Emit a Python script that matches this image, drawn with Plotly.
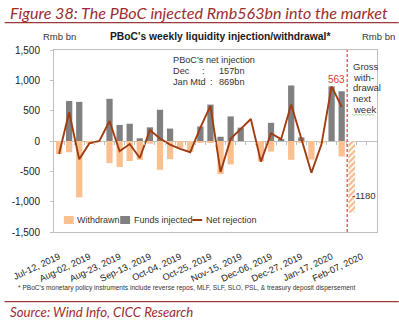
import plotly.graph_objects as go

# Weekly categories (Friday of each week)
weeks = [
    "Jul-12, 2019", "Jul-19, 2019", "Jul-26, 2019", "Aug-02, 2019", "Aug-09, 2019",
    "Aug-16, 2019", "Aug-23, 2019", "Aug-30, 2019", "Sep-06, 2019", "Sep-13, 2019",
    "Sep-20, 2019", "Sep-27, 2019", "Oct-04, 2019", "Oct-11, 2019", "Oct-18, 2019",
    "Oct-25, 2019", "Nov-01, 2019", "Nov-08, 2019", "Nov-15, 2019", "Nov-22, 2019",
    "Nov-29, 2019", "Dec-06, 2019", "Dec-13, 2019", "Dec-20, 2019", "Dec-27, 2019",
    "Jan-03, 2020", "Jan-10, 2020", "Jan-17, 2020", "Jan-24, 2020", "Jan-31, 2020",
    "Feb-07, 2020", "Feb-14, 2020",
]

# Rmb bn, weeks Jul-12 .. Jan-24
injected = [0, 660, 645, 0, 0, 695, 265, 285, 45, 225,
            515, 205, 0, 0, 240, 600, 70, 405, 220, 0,
            0, 300, 30, 915, 60, 0, 0, 900, 820]
withdrawn = [-215, -185, -930, -45, 0, -365, -430, -330, -310, -45,
             -475, -300, -120, -180, -25, -25, -545, -385, 0, 0,
             -340, -175, 0, -310, -20, -306, -35, 0, -255]
net = [-215, 475, -300, -40, 0, 330, -170, -50, -280, 180,
       40, -60, -130, -185, 220, 580, -510, 35, 200, 362,
       -340, 125, 30, 600, 40, -525, -55, 900, 563]

# Gross withdrawal due next week (Jan-31)
gross_next_week = -1180

y_ticks = [1500, 1000, 500, 0, -500, -1000, -1500]
y_tick_labels = ["1,500", "1,000", "500", "0", "-500", "-1,000", "-1,500"]
tick_labels = weeks[::3]

summary_rows = [("Dec", "157bn"), ("Jan Mtd", "869bn")]
gross_note = ["Gross", "with-", "drawal", "next", "week"]

C_RED = "#9b2d30"
C_ORANGE = "#FAC090"
C_GRAY = "#808080"
C_LINE = "#a03c12"
C_FRAME = "#bfbfbf"
FONT = "Liberation Sans"

# plot area in pixels
L, R, T, B = 50, 377, 50, 232


def fx(x):
    return (x - L) / (R - L)


def fy(y):
    return (B - y) / (B - T)


n = len(net)
fig = go.Figure()
fig.add_trace(go.Bar(x=weeks[:n], y=withdrawn, width=0.62, marker_color=C_ORANGE,
                     marker_line_width=0, name="Withdrawn"))
fig.add_trace(go.Bar(x=weeks[:n], y=injected, width=0.62, marker_color=C_GRAY,
                     marker_line_width=0, name="Funds injected"))
fig.add_trace(go.Bar(x=[weeks[n]], y=[gross_next_week], width=0.66,
                     marker=dict(color="white", line_width=0,
                                 pattern=dict(shape="/", fgcolor="#e67a1c", bgcolor="white",
                                              size=4, solidity=0.55)),
                     name="Gross withdrawal next week"))
fig.add_trace(go.Scatter(x=weeks[:n], y=net, mode="lines",
                         line=dict(color=C_LINE, width=1.9), name="Net rejection"))
# carrier for the tick marks on the zero line
fig.add_trace(go.Scatter(x=[None], y=[None], xaxis="x2", showlegend=False, hoverinfo="skip"))

ann = []


def text(x, y, s, size=9, color="#333333", xanchor="left", yanchor="middle",
         family=FONT, **kw):
    ann.append(dict(xref="paper", yref="paper", x=fx(x), y=fy(y), text=s, showarrow=False,
                    xanchor=xanchor, yanchor=yanchor,
                    font=dict(size=size, color=color, family=family), **kw))


text(3, 12, "<i>Figure 38: The PBoC injected Rmb563bn into the market</i>", size=16.1,
     color=C_RED, family="Lato")
text(218.5, 36, "<b>PBoC's weekly liquidity injection/withdrawal*</b>", size=10.3,
     color="#1a1a1a", xanchor="center")
text(37, 36, "Rmb bn", size=9.5)
text(360, 36, "Rmb bn", size=9.5)

# net injection summary box
text(168.5, 60, "PBoC's net injection", size=9.2)
for i, (lab, val) in enumerate(summary_rows):
    yy = 71 + 10.5 * i
    text(168.5, yy, lab, size=9.2)
    text(198 + 8 * i, yy, ":", size=9.2)
    text(245.5, yy, val, size=9.2, xanchor="right")

for i, line in enumerate(gross_note):
    text(351, 66.3 + 10.7 * i, line, size=9.5)

# value labels
ann.append(dict(xref="x", yref="y", x=27.45, y=1010, text=f"{net[-1]:.0f}", showarrow=False,
                font=dict(size=10, color="#d83a3a", family=FONT)))
ann.append(dict(xref="x", yref="y", x=n, y=-900, text=f"{gross_next_week:.0f}", showarrow=False,
                xanchor="left", xshift=-2, font=dict(size=9.5, color="#333333", family=FONT)))

# legend
legend_items = [("Withdrawn", 60, "box", C_ORANGE), ("Funds injected", 117, "box", C_GRAY),
                ("Net rejection", 190, "line", C_LINE)]
shapes = []
for lab, x0, kind, col in legend_items:
    if kind == "box":
        shapes.append(dict(type="rect", xref="paper", yref="paper", x0=fx(x0), x1=fx(x0 + 10),
                           y0=fy(224), y1=fy(216), fillcolor=col, line_width=0))
    else:
        shapes.append(dict(type="line", xref="paper", yref="paper", x0=fx(x0), x1=fx(x0 + 10),
                           y0=fy(220), y1=fy(220), line=dict(color=col, width=2)))
    text(x0 + 11.5, 220, lab, size=9)

# next-week divider
shapes.append(dict(type="line", xref="x", yref="paper", x0=28.55, x1=28.55, y0=0, y1=1,
                   line=dict(color="#e06a6a", width=1.5, dash="3px,2px")))
# squiggle under "week"
sq = "M {} {}".format(fx(352), fy(114.5))
for k in range(1, 12):
    sq += " L {} {}".format(fx(352 + 2 * k), fy(114.5 + (0.8 if k % 2 else -0.3)))
shapes.append(dict(type="path", xref="paper", yref="paper", path=sq,
                   line=dict(color="#8fd08f", width=0.8)))
# page rules
for yy in (22.7, 301.7):
    shapes.append(dict(type="line", xref="paper", yref="paper", x0=fx(0), x1=fx(399),
                       y0=fy(yy), y1=fy(yy), line=dict(color="#9a3a3a", width=1.3)))

text(12, 287.5, "* PBoC's monetary policy instruments include reverse repos, MLF, SLF, SLO, PSL, "
     "&amp; treasury deposit dispersement", size=6.6)
text(3, 311.5, "<i>Source: Wind Info, CICC Research</i>", size=13.2, color=C_RED, family="Lato")

fig.update_layout(
    width=399, height=322,
    margin=dict(l=L, r=399 - R, t=T, b=322 - B, pad=0),
    paper_bgcolor="white", plot_bgcolor="white",
    barmode="overlay", showlegend=False,
    font=dict(family=FONT, color="#333333"),
    xaxis=dict(type="category", categoryorder="array", categoryarray=weeks,
               range=[-0.5, len(weeks) - 0.5], tickvals=tick_labels, ticktext=tick_labels,
               tickangle=-25, tickfont=dict(size=9.2, color="#222222"), ticks="",
               ticklabelstandoff=15, showgrid=False, showline=True, mirror=True,
               linecolor=C_FRAME, linewidth=1, fixedrange=True),
    xaxis2=dict(overlaying="x", anchor="free", position=0.5, type="linear",
                range=[-0.5, len(weeks) - 0.5],
                tickvals=[i + 0.5 for i in range(len(weeks) - 1)],
                ticks="outside", ticklen=3, tickcolor=C_FRAME, showticklabels=False,
                showline=False, showgrid=False, zeroline=False),
    yaxis=dict(range=[-1500, 1500], tickvals=y_ticks, ticktext=y_tick_labels,
               tickfont=dict(size=10, color="#222222"), showgrid=False,
               zeroline=True, zerolinecolor=C_FRAME, zerolinewidth=1,
               showline=True, mirror=True, linecolor=C_FRAME, linewidth=1,
               ticks="outside", ticklen=3, tickcolor=C_FRAME, ticklabelstandoff=8),
    annotations=ann, shapes=shapes,
)

fig.write_html("out.html")
